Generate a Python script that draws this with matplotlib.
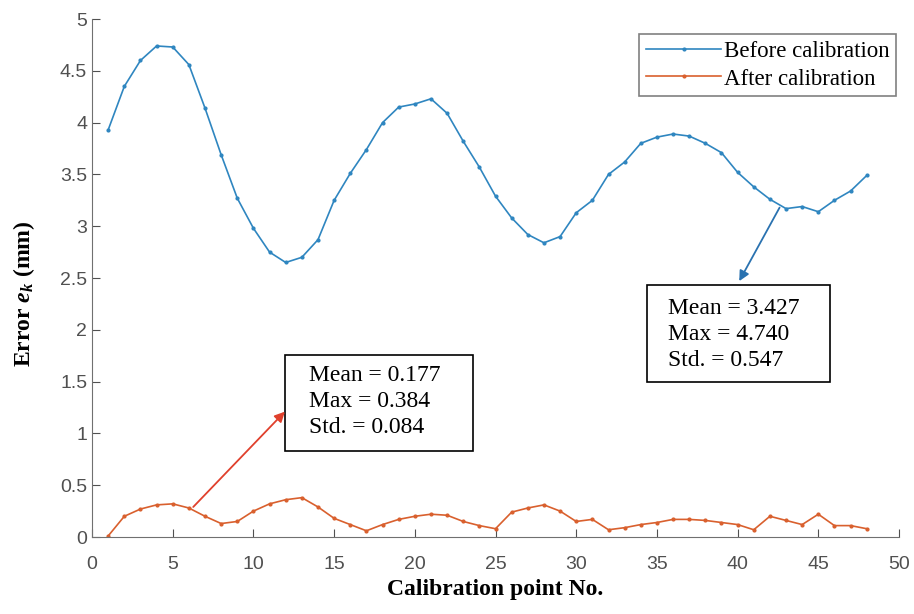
import numpy as np
import matplotlib.pyplot as plt
from matplotlib.patches import Rectangle

plt.rcParams['mathtext.fontset'] = 'custom'
plt.rcParams['mathtext.it'] = 'Liberation Serif:italic:bold'
plt.rcParams['mathtext.rm'] = 'Liberation Serif:bold'

# Calibration points and errors (mm)
points = np.arange(1, 49)
before = [3.93, 4.35, 4.60, 4.74, 4.73, 4.56, 4.14, 3.69, 3.27, 2.98,
          2.75, 2.65, 2.70, 2.87, 3.25, 3.51, 3.74, 4.00, 4.15, 4.18,
          4.23, 4.09, 3.82, 3.57, 3.29, 3.08, 2.92, 2.84, 2.90, 3.13,
          3.25, 3.50, 3.62, 3.80, 3.86, 3.89, 3.87, 3.80, 3.71, 3.52,
          3.38, 3.26, 3.17, 3.19, 3.14, 3.25, 3.34, 3.49]
after = [0.01, 0.20, 0.27, 0.31, 0.32, 0.28, 0.20, 0.13, 0.15, 0.25,
         0.32, 0.36, 0.38, 0.29, 0.18, 0.12, 0.06, 0.12, 0.17, 0.20,
         0.22, 0.21, 0.15, 0.11, 0.08, 0.24, 0.28, 0.31, 0.25, 0.15,
         0.17, 0.07, 0.09, 0.12, 0.14, 0.17, 0.17, 0.16, 0.14, 0.12,
         0.07, 0.20, 0.16, 0.12, 0.22, 0.11, 0.11, 0.08]

labels = ['Before calibration', 'After calibration']
stats_before = 'Mean = 3.427\nMax = 4.740\nStd. = 0.547'
stats_after = 'Mean = 0.177\nMax = 0.384\nStd. = 0.084'

blue = '#2f86c0'
orange = '#d9602e'
serif = 'Liberation Serif'
sans = 'Liberation Sans'

fig = plt.figure(figsize=(9.14, 6.14), dpi=100)
ax = fig.add_axes([0.1007, 0.1254, 0.8829, 0.8436])

ax.plot(points, before, color=blue, lw=1.2, marker='.', ms=4, label=labels[0])
ax.plot(points, after, color=orange, lw=1.2, marker='.', ms=4, label=labels[1])

ax.set_xlim(0, 50)
ax.set_ylim(0, 5)
ax.set_xticks(np.arange(0, 51, 5))
ax.set_yticks(np.arange(0, 5.01, 0.5))
ax.set_yticklabels(['0', '0.5', '1', '1.5', '2', '2.5', '3', '3.5', '4', '4.5', '5'])
for s in ['top', 'right']:
    ax.spines[s].set_visible(False)
for s in ['left', 'bottom']:
    ax.spines[s].set_color('#707070')
ax.tick_params(direction='in', length=6, color='#505050', labelcolor='#505050',
               labelsize=14)
for lab in ax.get_xticklabels() + ax.get_yticklabels():
    lab.set_family(sans)
ax.tick_params(axis='x', pad=14)

ax.set_xlabel('Calibration point No.', family=serif, fontweight='bold', fontsize=17,
              labelpad=4)
ax.set_ylabel(r'Error $e_k$ (mm)', family=serif, fontweight='bold', fontsize=17)
ax.yaxis.set_label_coords(-0.068, 0.47)

leg = ax.legend(loc='upper right', bbox_to_anchor=(1.005, 0.985),
                prop={'family': serif, 'size': 16.5}, fancybox=False,
                handlelength=3.3, handletextpad=0.1, borderpad=0.3,
                labelspacing=0.3, borderaxespad=0.3)
leg.get_frame().set_edgecolor('#606060')
leg.get_frame().set_linewidth(1.2)

# statistics boxes
ax.add_patch(Rectangle((11.95, 0.835), 11.65, 0.92, fill=False, ec='black', lw=1.2))
ax.text(13.45, 1.31, stats_after, family=serif, fontsize=17, va='center',
        ha='left', linespacing=1.3)
ax.annotate('', xy=(11.95, 1.21), xytext=(6.27, 0.29),
            arrowprops=dict(arrowstyle='-|>,head_length=0.6,head_width=0.3',
                            color='#e0402c', lw=1.3, shrinkA=0, shrinkB=0))

ax.add_patch(Rectangle((34.4, 1.50), 11.3, 0.93, fill=False, ec='black', lw=1.2))
ax.text(35.7, 1.955, stats_before, family=serif, fontsize=17, va='center',
        ha='left', linespacing=1.3)
ax.annotate('', xy=(40.1, 2.47), xytext=(42.6, 3.18),
            arrowprops=dict(arrowstyle='-|>,head_length=0.6,head_width=0.3',
                            color='#2a72b0', lw=1.3, shrinkA=0, shrinkB=0))

fig.savefig('out.png', dpi=100)
